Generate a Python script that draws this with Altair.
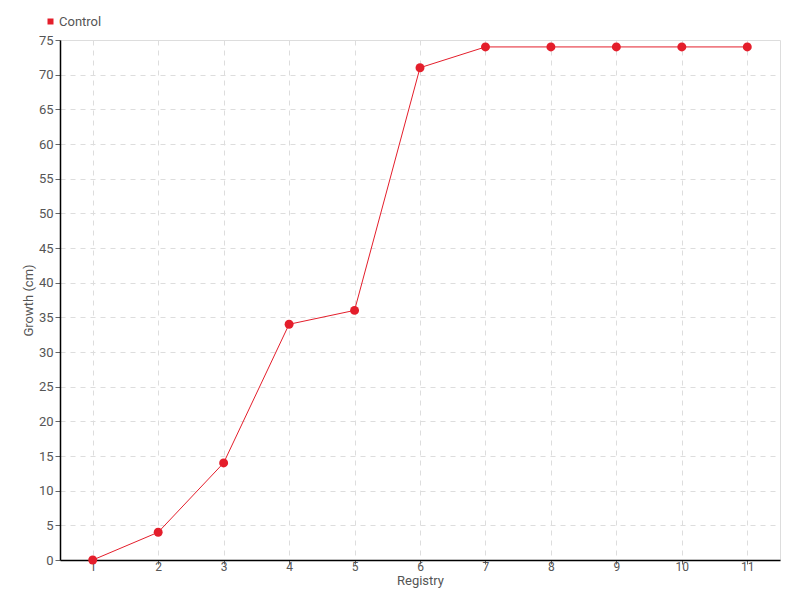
import altair as alt
import pandas as pd

registry = [1, 2, 3, 4, 5, 6, 7, 8, 9, 10, 11]
growth = [0, 4, 14, 34, 36, 71, 74, 74, 74, 74, 74]
series = ["Control"] * len(registry)

df = pd.DataFrame({"Registry": registry, "Growth": growth, "Series": series})

FONT = "Roboto"
RED = "#e41e2b"
TXT = "#555555"

color = alt.Color(
    "Series:N",
    scale=alt.Scale(domain=["Control"], range=[RED]),
    legend=alt.Legend(
        title=None, orient="none", legendX=-16, legendY=-25,
        symbolType="square", symbolSize=36, labelFont=FONT, labelFontSize=13,
        labelColor=TXT, symbolStrokeWidth=0, labelOffset=2,
    ),
)

x = alt.X(
    "Registry:O",
    scale=alt.Scale(type="point", padding=0.5),
    axis=alt.Axis(
        title="Registry", labelAngle=0, titleFont=FONT, labelFont=FONT,
        titleFontSize=13, labelFontSize=12, titleFontWeight="normal",
        titleColor=TXT, labelColor=TXT, domainColor="black", domainWidth=1.5,
        tickColor="#666", titlePadding=2, labelPadding=-3,
        grid=True, gridDash=[5, 5], gridColor="#dddddd", tickSize=4,
    ),
)
y = alt.Y(
    "Growth:Q",
    scale=alt.Scale(domain=[0, 75], nice=False),
    axis=alt.Axis(
        title="Growth (cm)", values=list(range(0, 80, 5)), titleFont=FONT,
        labelFont=FONT, titleFontSize=13, labelFontSize=13,
        titleFontWeight="normal", titleColor=TXT, labelColor=TXT,
        domainColor="black", domainWidth=1.5, tickColor="#666", grid=True,
        gridDash=[5, 5], gridColor="#dddddd", tickSize=5, titlePadding=3,
        labelPadding=2,
    ),
)

line = alt.Chart(df).mark_line(strokeWidth=1, color=RED).encode(x=x, y=y, color=color)
pts = alt.Chart(df).mark_circle(size=80, opacity=1).encode(x=x, y=y, color=color)

chart = (
    alt.layer(line, pts)
    .properties(width=720, height=520, padding={"left": 52, "top": 32, "right": 12, "bottom": 32},
                autosize=alt.AutoSizeParams(type="none"))
    .configure_view(stroke=None)
    .configure(background="white")
)

chart.save("out.html", embed_options={"renderer": "svg", "actions": False})
